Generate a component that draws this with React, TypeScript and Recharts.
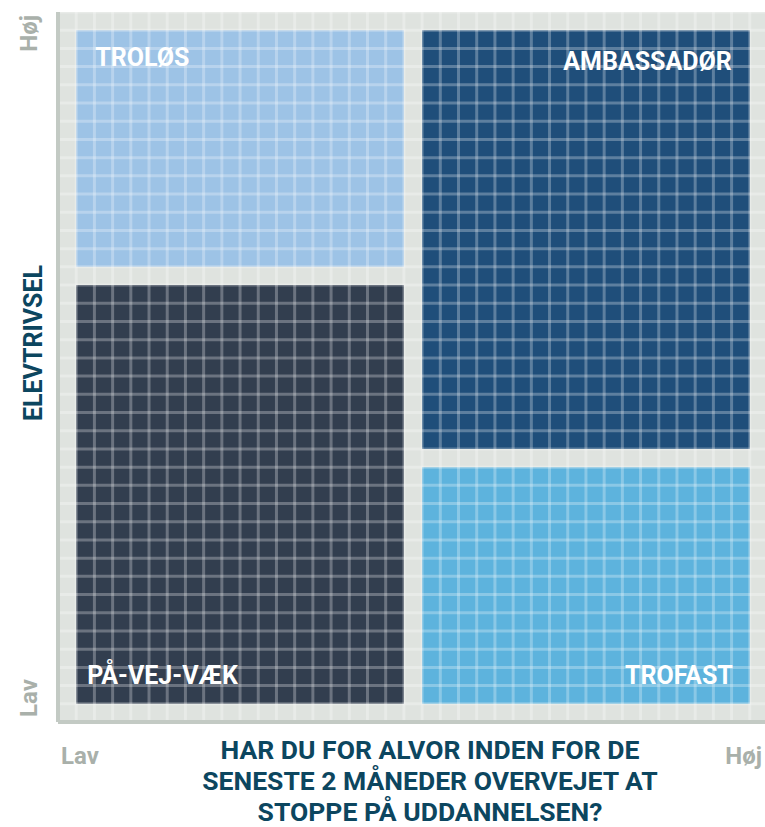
import React from "react";
import {
  ComposedChart,
  XAxis,
  YAxis,
  ReferenceArea,
  ReferenceLine,
} from "recharts";

// quadrant names and their extents in grid cells
const quadrants = ["TROLØS", "AMBASSADØR", "PÅ-VEJ-VÆK", "TROFAST"];
const xFrom = [1, 20, 1, 20];
const xTo = [19, 38, 19, 38];
const yFrom = [25, 15, 1, 1];
const yTo = [38, 38, 24, 14];

// axis ends
const levelLabels = ["Lav", "Høj"];
const axisEnds = [0, 39];

// grid cell boundaries
const gridSteps = Array.from({ length: 40 }, (_, i) => i);

const xTitle = [
  "HAR DU FOR ALVOR INDEN FOR DE",
  "SENESTE 2 MÅNEDER OVERVEJET AT",
  "STOPPE PÅ UDDANNELSEN?",
];
const yTitle = "ELEVTRIVSEL";

const boxColors = ["#9dc3e6", "#1f4e7a", "#323e4f", "#5db3dd"];
// label placement inside each box: anchor, dx, dy (baseline from top / bottom)
const labelPlace = [
  { anchor: "start", dx: 19, top: true, dy: 36 },
  { anchor: "end", dx: -18, top: true, dy: 40 },
  { anchor: "start", dx: 11, top: false, dy: -20 },
  { anchor: "end", dx: -17, top: false, dy: -20 },
];

const FONT = "Roboto, 'Open Sans', sans-serif";
const TITLE = "#0c465f";
const TICK = "#a9b0aa";

const XTick = (props: any) => {
  const { x, y, payload } = props;
  const first = payload.value === axisEnds[0];
  return (
    <text
      x={first ? x + 3 : x - 6}
      y={y + 34}
      textAnchor={first ? "start" : "end"}
      fontFamily={FONT}
      fontWeight={700}
      fontSize={24}
      fill={TICK}
    >
      {first ? levelLabels[0] : levelLabels[1]}
    </text>
  );
};

const YTick = (props: any) => {
  const { y, payload } = props;
  const bottom = payload.value === axisEnds[0];
  const tx = 37;
  const ty = bottom ? y - 5 : y + 3;
  return (
    <text
      x={tx}
      y={ty}
      transform={`rotate(-90 ${tx} ${ty})`}
      textAnchor={bottom ? "start" : "end"}
      fontFamily={FONT}
      fontWeight={700}
      fontSize={24}
      fill={TICK}
    >
      {bottom ? levelLabels[0] : levelLabels[1]}
    </text>
  );
};

const boxLabel = (i: number) => (props: any) => {
  const vb = props.viewBox || {};
  const p = labelPlace[i];
  const x = p.anchor === "start" ? vb.x + p.dx : vb.x + vb.width + p.dx;
  const y = p.top ? vb.y + p.dy : vb.y + vb.height + p.dy;
  return (
    <text
      x={x}
      y={y}
      textAnchor={p.anchor}
      fontFamily={FONT}
      fontWeight={700}
      fontSize={25}
      fill="#ffffff"
    >
      {quadrants[i]}
    </text>
  );
};

export default function App() {
  return (
    <div style={{ width: 765, height: 827, overflow: "hidden" }}>
      <style>{"body{margin:0}"}</style>
      <ComposedChart
        width={768}
        height={827}
        data={[]}
        margin={{ top: 12, right: 0, bottom: 0, left: 0 }}
      >
        <XAxis
          type="number"
          dataKey="x"
          domain={[0, 39]}
          ticks={axisEnds}
          allowDataOverflow
          height={105}
          axisLine={{ stroke: "#c3cac4", strokeWidth: 4 }}
          tickLine={false}
          tick={<XTick />}
          interval={0}
          label={{
            content: (props: any) => {
              const vb = props.viewBox || {};
              const cx = vb.x + vb.width / 2 + 17;
              return (
                <text
                  textAnchor="middle"
                  fontFamily={FONT}
                  fontWeight={700}
                  fontSize={26.5}
                  fill={TITLE}
                >
                  {xTitle.map((t, i) => (
                    <tspan key={i} x={cx} y={759 + i * 31}>
                      {t}
                    </tspan>
                  ))}
                </text>
              );
            },
          }}
        />
        <YAxis
          type="number"
          dataKey="y"
          domain={[0, 39]}
          ticks={axisEnds}
          allowDataOverflow
          width={58}
          axisLine={{ stroke: "#c3cac4", strokeWidth: 4 }}
          tickLine={false}
          tick={<YTick />}
          interval={0}
          label={{
            content: (props: any) => {
              const vb = props.viewBox || {};
              const cy = vb.y + vb.height / 2 - 24;
              return (
                <text
                  x={42}
                  y={cy}
                  transform={`rotate(-90 42 ${cy})`}
                  textAnchor="middle"
                  fontFamily={FONT}
                  fontWeight={700}
                  fontSize={25}
                  fill={TITLE}
                >
                  {yTitle}
                </text>
              );
            },
          }}
        />
        {/* panel background */}
        <ReferenceArea
          x1={0}
          x2={39}
          y1={0}
          y2={39}
          fill="#dfe3df"
          fillOpacity={1}
          stroke="none"
        />
        {quadrants.map((q, i) => (
          <ReferenceArea
            key={q}
            x1={xFrom[i]}
            x2={xTo[i]}
            y1={yFrom[i]}
            y2={yTo[i]}
            fill={boxColors[i]}
            fillOpacity={1}
            stroke="none"
            label={boxLabel(i)}
          />
        ))}
        {/* cell grid drawn over everything */}
        {gridSteps.map((v) => (
          <ReferenceLine
            key={"vx" + v}
            x={v}
            stroke="#ffffff"
            strokeOpacity={0.28}
            strokeWidth={3}
          />
        ))}
        {gridSteps.map((v) => (
          <ReferenceLine
            key={"hy" + v}
            y={v}
            stroke="#ffffff"
            strokeOpacity={0.28}
            strokeWidth={3}
          />
        ))}
      </ComposedChart>
    </div>
  );
}
